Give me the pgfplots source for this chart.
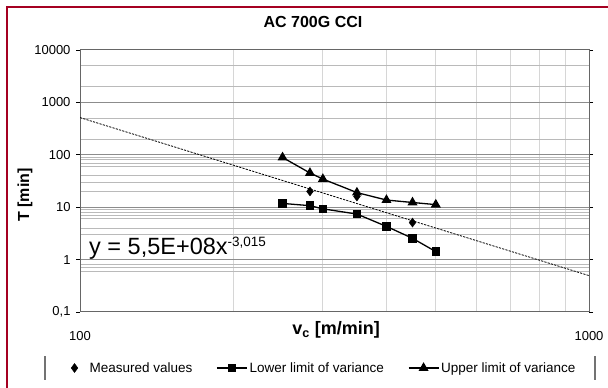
\documentclass[border=0pt]{standalone}
\usepackage{fontspec}
\setmainfont{Liberation Sans}
\usepackage{pgfplots}
\pgfplotsset{compat=1.18}
\definecolor{framered}{HTML}{A50021}
\pgfplotsset{
  lineimg/.style={legend image code/.code={\draw[##1, mark repeat=2, mark phase=2] plot coordinates {(0pt,0pt) (15pt,0pt) (30pt,0pt)};}},
  markimg/.style={legend image code/.code={\path[draw=none] (0pt,0pt) -- (17pt,0pt); \draw[##1] plot coordinates {(4pt,0pt)};}},
}
\begin{document}
\begin{tikzpicture}[x=1pt,y=1pt]
\path[use as bounding box] (0,0) rectangle (608,388);
\draw[framered, line width=2.2pt] (7,0) -- (7,381) -- (608,381);
\begin{axis}[at={(80pt,76pt)}, anchor=south west, scale only axis,
  width=509pt, height=262pt,
  xmode=log, ymode=log, xmin=100, xmax=1000, ymin=0.1, ymax=10000,
  xtick={100,1000}, xticklabels={100,1000},
  ytick={0.1,1,10,100,1000,10000}, yticklabels={{0,1},1,10,100,1000,10000},
  minor xtick={200,300,400,500,600,700,800,900},
  minor ytick={0.6,0.7,0.8,3,4,6,7,8,9,20,30,40,60,70,80,90,200,500,2000,5000},
  grid=both,
  major x grid style={draw=black!20, line width=0.8pt},
  minor x grid style={draw=black!16, line width=0.8pt},
  major y grid style={draw=black!45, line width=1pt},
  minor y grid style={draw=black!27, line width=0.8pt},
  tick align=outside, major tick length=4pt, minor tick length=0pt,
  xtick style={draw=none},
  ytick style={draw=black, line width=0.8pt},
  axis line style={draw=black!60, line width=1pt},
  ticklabel style={font=\fontsize{13}{15}\selectfont},
  xticklabel style={yshift=-12pt},
  yticklabel style={xshift=-2pt},
  title={AC 700G CCI},
  title style={at={(rel axis cs:0.4577,1.084)}, anchor=center, font=\bfseries\fontsize{16}{19}\selectfont},
  xlabel={v\textsubscript{c} [m/min]},
  ylabel={T [min]},
  every axis x label/.style={at={(rel axis cs:0.503,-0.0687)}, anchor=center, font=\bfseries\fontsize{18}{21}\selectfont},
  every axis y label/.style={at={(rel axis cs:-0.108,0.4466)}, anchor=center, rotate=90, font=\bfseries\fontsize{16}{19}\selectfont},
  legend columns=3,
  legend style={at={(rel axis cs:0.4794,-0.2137)}, anchor=center, draw=none, fill=none,
    font=\fontsize{13.5}{15}\selectfont,
    /tikz/every even column/.append style={column sep=22pt}},
  lineimg,
]
\addplot[black, line width=0.8pt, dash pattern=on 2.2pt off 1.2pt, forget plot] coordinates {(100,513) (1000,0.495)};
\addplot[only marks, mark=diamond*, mark size=4.5pt, black, markimg] coordinates {
(283,20) (350,16) (450,5.1)};
\addlegendentry{Measured values}
\addplot[black, line width=1.3pt, mark=square*, mark size=3.6pt, mark options={solid}] coordinates {
(250,11.8) (283,10.7) (300,9.3) (350,7.4) (400,4.3) (450,2.55) (500,1.42)};
\addlegendentry{Lower limit of variance}
\addplot[black, line width=1.3pt, mark=triangle*, mark size=4.5pt, mark options={solid}] coordinates {
(250,89) (283,45) (300,34.5) (350,19) (400,13.7) (450,12.3) (500,11.2)};
\addlegendentry{Upper limit of variance}
\end{axis}
\node[anchor=base west, inner sep=0pt] at (89,133) {\fontsize{23.5}{27}\selectfont y = 5,5E+08x\raisebox{8.5pt}{\fontsize{13.5}{15}\selectfont -3,015}};
\draw[black!55, line width=1.2pt] (45,8) -- (45,32);
\draw[black!55, line width=1.2pt] (595,8) -- (595,32);
\end{tikzpicture}
\end{document}
